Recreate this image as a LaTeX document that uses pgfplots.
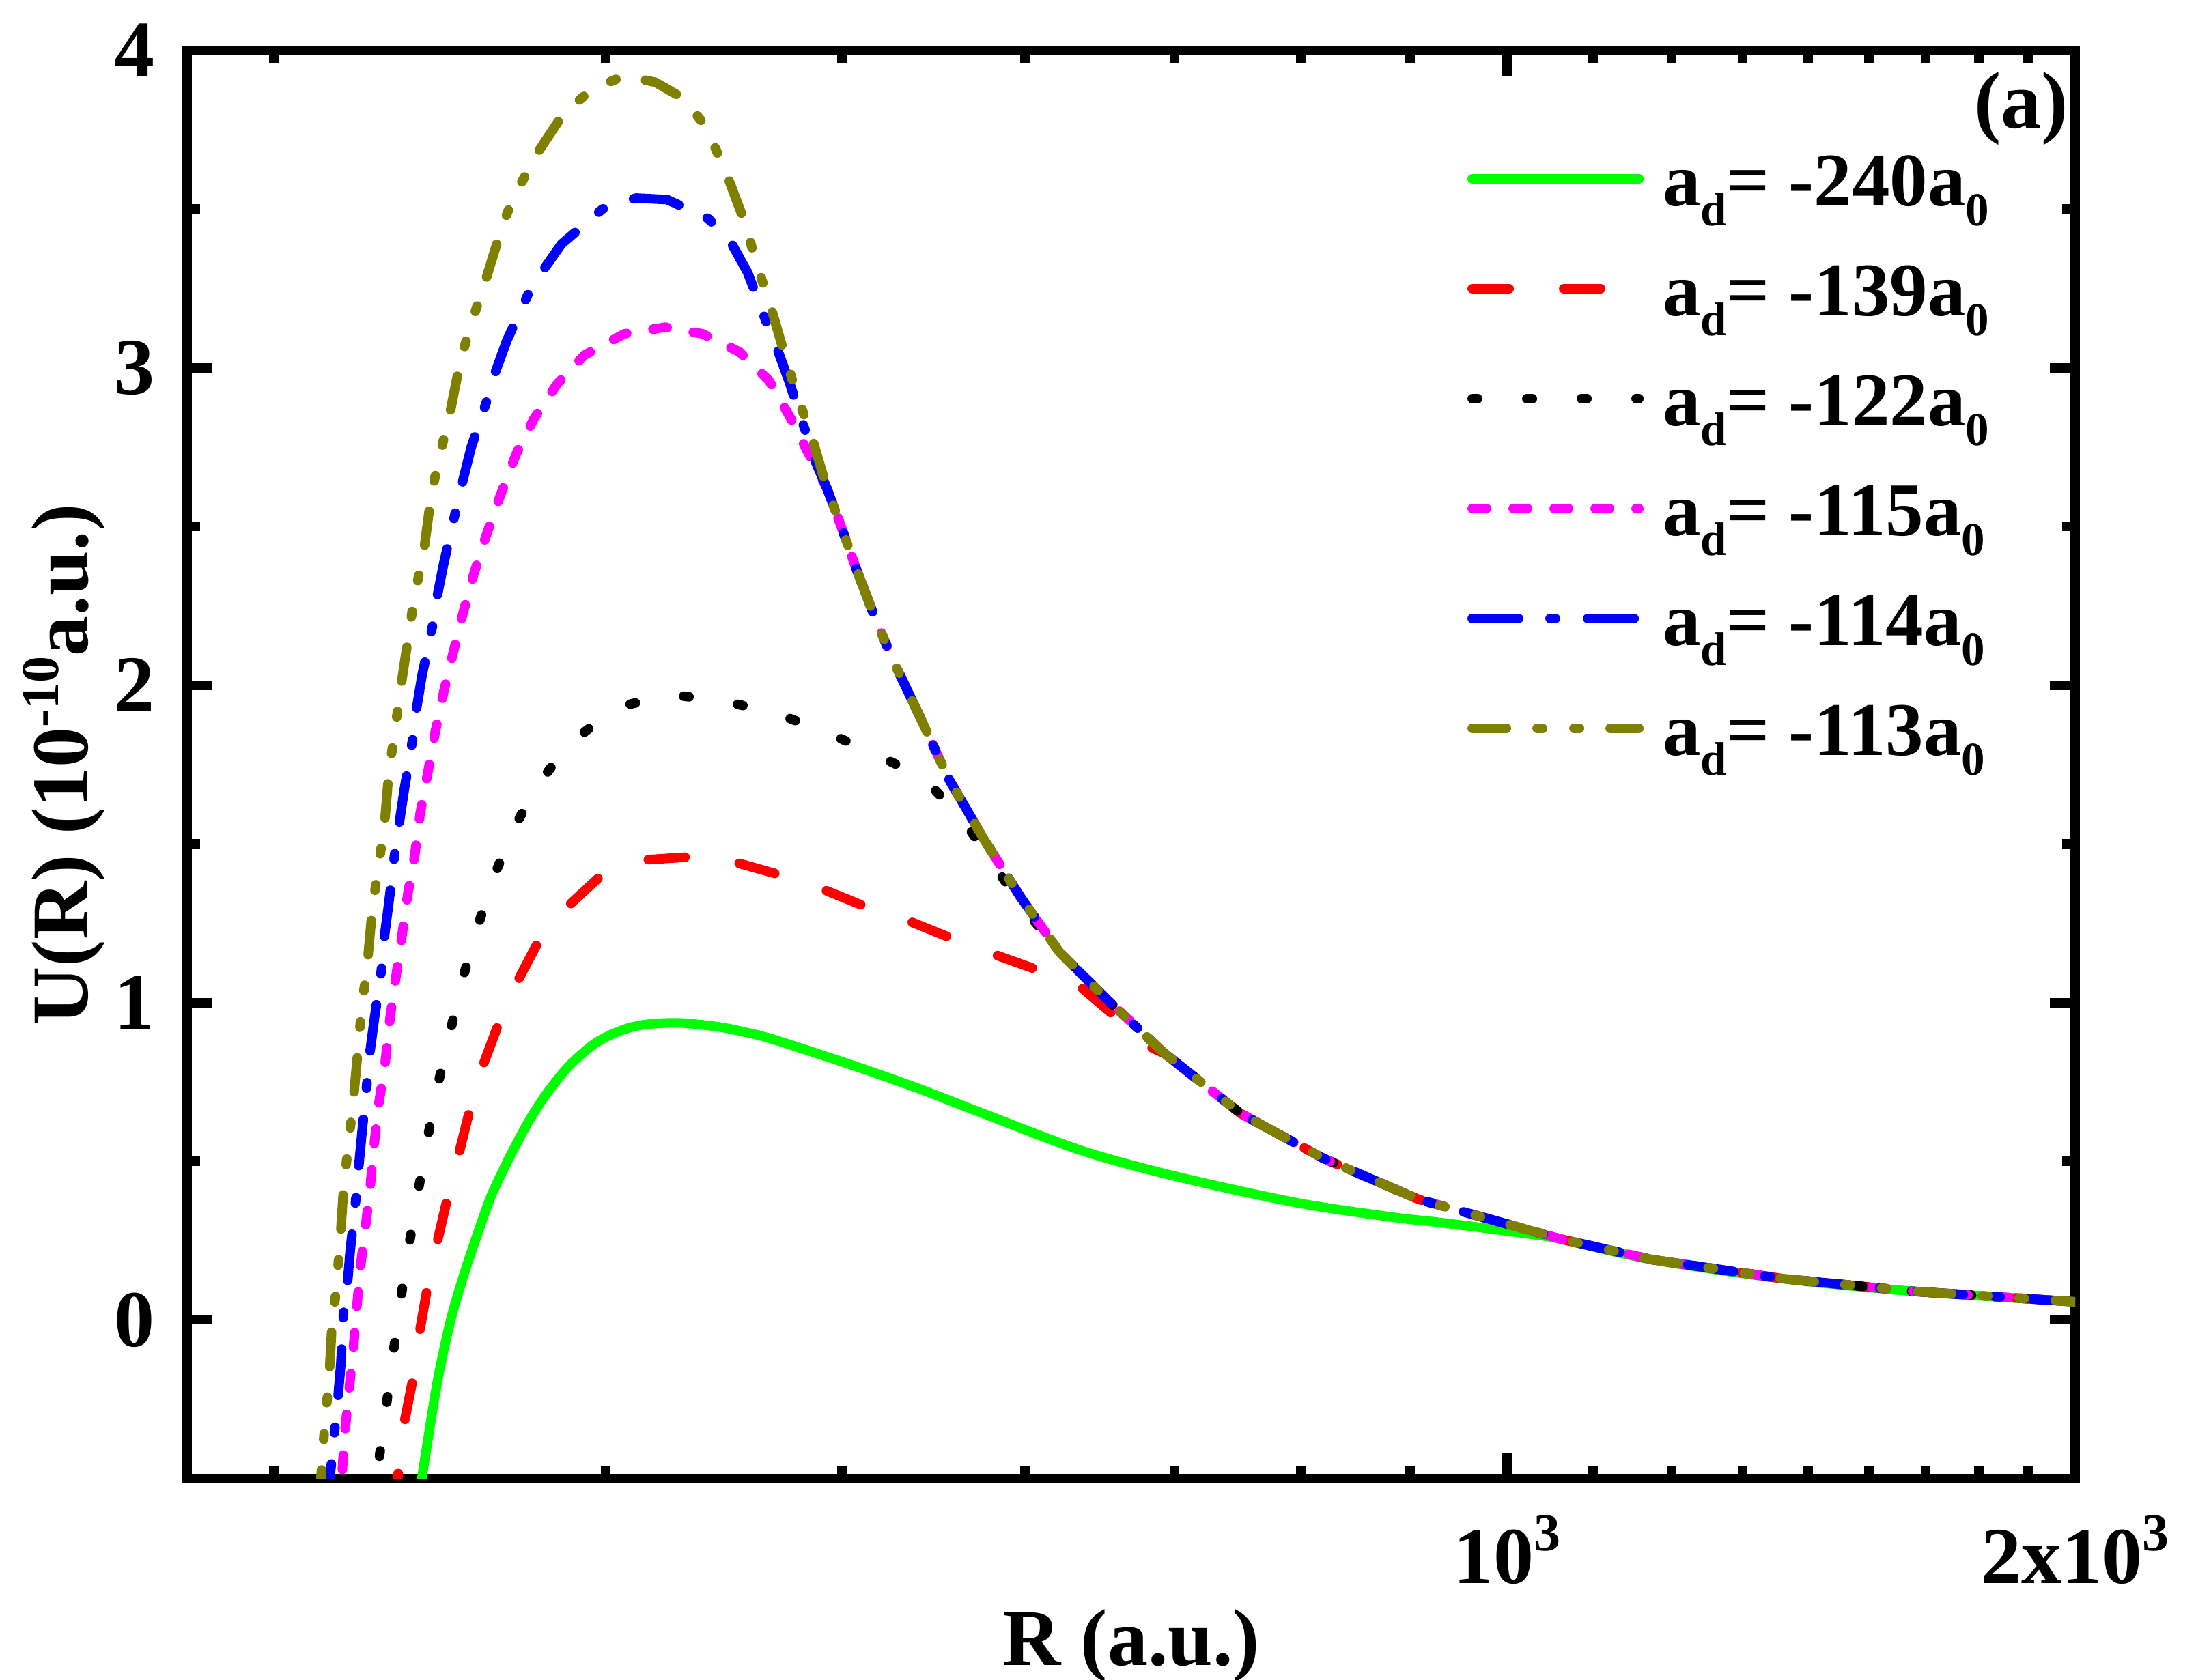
\documentclass[border=0pt]{standalone}
\usepackage{fontspec}
\setmainfont{Liberation Serif}
\usepackage{pgfplots}
\pgfplotsset{compat=1.18}
\definecolor{cgreen}{RGB}{0,255,0}
\definecolor{cred}{RGB}{255,0,0}
\definecolor{cmag}{RGB}{255,0,255}
\definecolor{cblue}{RGB}{0,0,255}
\definecolor{colive}{RGB}{128,128,0}
\newcommand{\mysup}[1]{\raisebox{4.8pt}{\fontsize{7.8}{8}\selectfont\bfseries #1}}
\newcommand{\mysupy}[1]{\raisebox{4.3pt}{\fontsize{7.8}{8}\selectfont\bfseries #1}}
\newcommand{\mysub}[1]{\raisebox{-2.9pt}{\fontsize{6.9}{7}\selectfont\bfseries #1}}
\begin{document}
\begin{tikzpicture}
\begin{axis}[
 name=ax, at={(0,0)}, anchor=south west,
 width=276.5pt, height=209.2pt, scale only axis,
 xmode=log, xmin=200, xmax=2000, ymin=-0.5, ymax=4,
 axis line style={line width=1.4pt},
 every tick/.style={black, line width=1.4pt},
 tick align=inside,
 major tick length=3.7pt, minor tick length=1.9pt,
 xtick={1000,2000},
 xticklabels={10\mysup{3}, 2x10\mysup{3}},
 minor xtick={222.222,333.333,444.444,555.556,666.667,777.778,888.889,1111.11,1222.22,1333.33,1444.44,1555.56,1666.67,1777.78,1888.89},
 ytick={0,1,2,3,4}, yticklabels={0,1,2,3,4},
 minor ytick={0.5,1.5,2.5,3.5},
 ticklabel style={font=\fontsize{11.8}{14}\selectfont\bfseries, inner sep=0pt},
 xticklabel style={anchor=base, yshift=-15.4pt},
 yticklabel style={anchor=east, xshift=-4.6pt},
 xlabel={R (a.u.)}, ylabel={U(R) (10\mysupy{-10}a.u.)},
 label style={font=\fontsize{11.8}{14}\selectfont\bfseries, inner sep=0pt},
 xlabel style={at={(axis description cs:0.5,-0.13097)}, anchor=base},
 ylabel style={at={(axis description cs:-0.0528,0.5)}, anchor=base},
 legend style={at={(0.67812,0.92925)}, anchor=north west, draw=none, fill=none,
   inner sep=0pt, outer sep=0pt, row sep=5.1pt, column sep=2.8pt,
   nodes={inner sep=0pt, text height=8pt, text depth=3pt, anchor=base west,
   font=\fontsize{11.1}{13}\selectfont\bfseries}},
 legend image code/.code={\draw[#1] (0pt,4pt) -- (24.4pt,4pt);},
 every axis plot/.append style={line width=1.4pt, line cap=round, line join=round, mark=none},
]
% a_d = -240
\addplot[cgreen, smooth, tension=0.5] table {
264.6 -0.6
266.4 -0.49
271.3 -0.198
275.8 0.0
280.5 0.149
285.2 0.277
290.0 0.396
296.5 0.515
303.1 0.622
309.9 0.711
318.6 0.80
329.4 0.874
340.6 0.915
350.2 0.931
364.1 0.936
380.6 0.925
391.3 0.912
406.6 0.888
432.4 0.837
460.7 0.782
490.0 0.725
530.8 0.645
596.4 0.532
670.2 0.45
776.0 0.368
871.9 0.323
915.1 0.309
979.7 0.287
1044.6 0.265
1069.2 0.254
1193.5 0.19
1399.3 0.13
1641.9 0.09
1986.8 0.058
2000 0.057
};
\addlegendentry{a\mysub{d}= -240a\mysub{0}}
% a_d = -139
\addplot[cred, dash pattern=on 5.4pt off 8pt] table {
257.9 -0.6
258.9 -0.45
260.6 -0.325
263.7 -0.17
265.5 -0.04
268.3 0.115
271.3 0.245
275.1 0.40
278.6 0.525
282.8 0.68
286.8 0.80
293.1 0.95
298.8 1.06
307.4 1.20
316.4 1.29
332.7 1.41
341.6 1.43
350.6 1.45
371.3 1.46
391.3 1.44
413.4 1.40
435.0 1.355
458.4 1.30
483.1 1.255
509.1 1.20
536.1 1.15
565.9 1.10
594.4 1.05
619.2 0.96
647.1 0.86
658.6 0.84
722.9 0.65
798.9 0.51
897.7 0.38
1069.2 0.254
1193.5 0.19
1399.3 0.13
1641.9 0.09
1986.8 0.058
2000 0.057
};
\addlegendentry{a\mysub{d}= -139a\mysub{0}}
% a_d = -122
\addplot[black, dash pattern=on 0.8pt off 7.2pt] table {
250.5 -0.6
252.3 -0.47
254.6 -0.30
256.8 -0.13
259.1 0.04
261.7 0.21
264.6 0.38
267.7 0.55
271.0 0.72
275.1 0.885
279.1 1.05
284.2 1.215
290.0 1.38
297.3 1.54
306.3 1.68
318.0 1.81
337.4 1.93
361.0 1.97
384.9 1.95
410.7 1.91
436.8 1.85
463.8 1.78
490.4 1.71
514.7 1.58
533.9 1.44
554.3 1.30
579.3 1.16
614.0 1.01
658.6 0.84
722.9 0.65
798.9 0.51
897.7 0.38
1069.2 0.254
1193.5 0.19
1399.3 0.13
1641.9 0.09
1986.8 0.058
2000 0.057
};
\addlegendentry{a\mysub{d}= -122a\mysub{0}}
% a_d = -115
\addplot[cmag, dash pattern=on 2.1pt off 3.9pt] table {
240.8 -0.6
241.6 -0.48
242.4 -0.355
243.6 -0.225
244.9 -0.095
245.9 0.035
247.1 0.17
248.6 0.295
250.0 0.42
251.3 0.56
252.7 0.685
254.6 0.81
256.1 0.95
257.8 1.07
259.8 1.205
261.7 1.34
263.9 1.46
265.7 1.595
268.3 1.73
270.8 1.86
273.5 1.98
276.7 2.105
280.2 2.235
284.0 2.36
288.3 2.48
293.1 2.60
298.8 2.73
305.3 2.84
314.1 2.95
324.7 3.04
340.8 3.107
358.3 3.128
375.0 3.107
392.3 3.05
406.6 2.96
417.6 2.84
426.7 2.73
436.4 2.62
443.4 2.51
452.7 2.36
461.5 2.23
472.0 2.09
488.8 1.90
506.2 1.705
529.0 1.51
552.9 1.33
579.3 1.16
614.0 1.01
658.6 0.84
722.9 0.65
798.9 0.51
897.7 0.38
1069.2 0.254
1193.5 0.19
1399.3 0.13
1641.9 0.09
1986.8 0.058
2000 0.057
};
\addlegendentry{a\mysub{d}= -115a\mysub{0}}
% a_d = -114
\addplot[cblue, dash pattern=on 6.8pt off 4.6pt on 0.8pt off 4.7pt] table {
237.6 -0.6
238.0 -0.50
240.4 -0.24
241.2 -0.14
242.0 0.02
243.2 0.12
244.0 0.22
245.7 0.385
246.5 0.48
247.5 0.59
249.0 0.745
250.0 0.85
251.3 0.95
253.4 1.10
254.4 1.21
255.7 1.31
257.6 1.47
259.1 1.57
260.6 1.67
263.3 1.83
264.6 1.93
266.3 2.03
269.7 2.185
271.5 2.29
273.5 2.385
277.4 2.545
279.8 2.64
282.8 2.75
288.0 2.89
291.4 2.99
295.3 3.085
303.0 3.23
308.9 3.31
315.7 3.39
331.8 3.50
345.7 3.535
359.2 3.53
377.6 3.47
387.8 3.40
396.2 3.30
404.9 3.15
410.7 3.06
416.5 2.96
430.6 2.70
436.4 2.62
443.4 2.51
452.7 2.36
461.5 2.23
472.0 2.09
488.8 1.90
506.2 1.705
529.0 1.51
552.9 1.33
579.3 1.16
614.0 1.01
658.6 0.84
722.9 0.65
798.9 0.51
897.7 0.38
1069.2 0.254
1193.5 0.19
1399.3 0.13
1641.9 0.09
1986.8 0.058
2000 0.057
};
\addlegendentry{a\mysub{d}= -114a\mysub{0}}
% a_d = -113
\addplot[colive, dash pattern=on 5pt off 4.5pt on 0.8pt off 4.6pt on 0.8pt off 4.5pt] table {
234.8 -0.58
235.7 -0.46
236.4 -0.35
237.8 -0.18
238.6 -0.02
239.8 0.09
241.0 0.25
242.0 0.41
243.2 0.53
244.9 0.69
246.3 0.85
247.3 0.97
249.2 1.13
250.6 1.29
252.1 1.40
254.4 1.56
255.7 1.72
257.4 1.84
259.6 2.00
261.9 2.15
263.7 2.27
267.0 2.43
269.2 2.59
271.5 2.70
275.4 2.85
278.8 3.01
282.1 3.12
287.6 3.27
293.1 3.43
297.3 3.53
306.8 3.68
316.4 3.80
328.0 3.88
341.0 3.92
354.0 3.90
366.1 3.85
376.6 3.76
386.8 3.60
395.3 3.45
399.9 3.34
407.6 3.19
414.5 3.04
420.4 2.92
428.5 2.78
436.4 2.62
443.4 2.51
452.7 2.36
461.5 2.23
472.0 2.09
488.8 1.90
506.2 1.705
529.0 1.51
552.9 1.33
579.3 1.16
614.0 1.01
658.6 0.84
722.9 0.65
798.9 0.51
897.7 0.38
1069.2 0.254
1193.5 0.19
1399.3 0.13
1641.9 0.09
1986.8 0.058
2000 0.057
};
\addlegendentry{a\mysub{d}= -113a\mysub{0}}
\end{axis}
\node[anchor=base east, inner sep=0pt, font=\fontsize{11.8}{14}\selectfont\bfseries] at ([xshift=-0.8pt,yshift=-11.4pt]ax.north east) {(a)};
\pgfresetboundingbox
\path ([xshift=-27.4pt,yshift=-29.5pt]ax.south west) rectangle ([xshift=17.7pt,yshift=7.4pt]ax.north east);
\end{tikzpicture}
\end{document}
